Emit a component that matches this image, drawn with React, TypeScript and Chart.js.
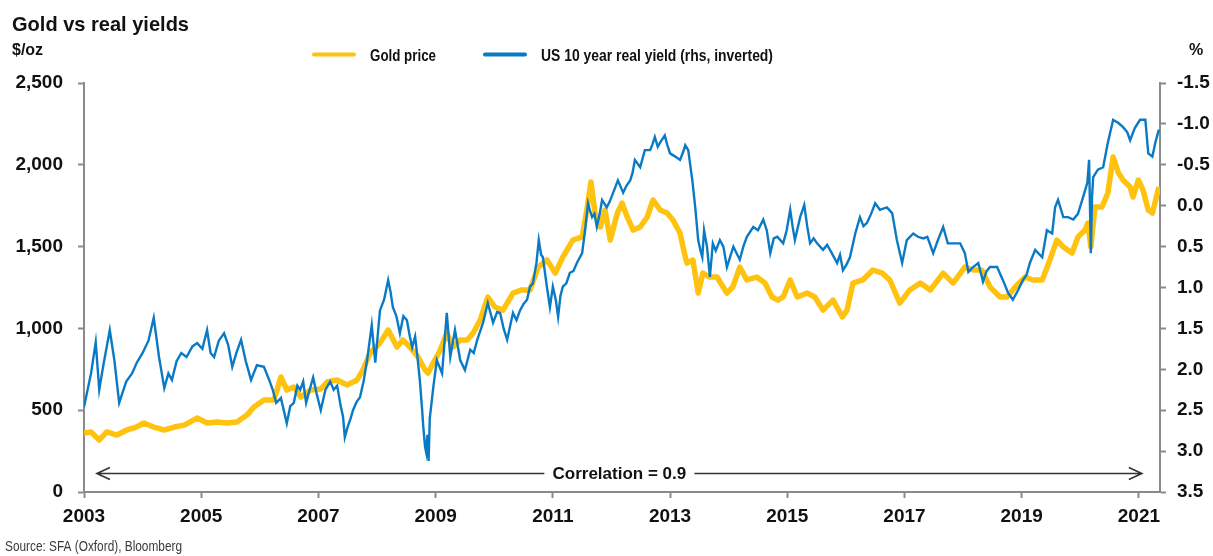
import React, { useEffect, useRef } from "react";
import { Chart, registerables } from "chart.js";

Chart.register(...registerables);

const title = "Gold vs real yields";
const leftUnit = "$/oz";
const rightUnit = "%";
const goldLabel = "Gold price";
const yieldLabel = "US 10 year real yield (rhs, inverted)";
const sourceText = "Source: SFA (Oxford), Bloomberg";
const annotationText = "Correlation = 0.9";
const annotationFrom = 2003.22;
const annotationTo = 2021.05;
const annotationLevel = 116;

const xTickValues = [2003, 2005, 2007, 2009, 2011, 2013, 2015, 2017, 2019, 2021];
const goldTicks = [0, 500, 1000, 1500, 2000, 2500];
const yieldTicks = [-1.5, -1.0, -0.5, 0.0, 0.5, 1.0, 1.5, 2.0, 2.5, 3.0, 3.5];

const goldYears = [
  2003.00, 2003.12, 2003.26, 2003.39, 2003.56, 2003.73, 2003.88, 2004.02, 2004.19, 2004.37,
  2004.54, 2004.71, 2004.93, 2005.10, 2005.27, 2005.44, 2005.61, 2005.78, 2005.90, 2006.07,
  2006.24, 2006.36, 2006.46, 2006.58, 2006.70, 2006.87, 2007.04, 2007.15, 2007.32, 2007.49,
  2007.66, 2007.76, 2007.88, 2008.05, 2008.19, 2008.34, 2008.44, 2008.56, 2008.70, 2008.82,
  2008.87, 2008.96, 2009.08, 2009.19, 2009.30, 2009.42, 2009.54, 2009.64, 2009.76, 2009.89,
  2010.01, 2010.15, 2010.32, 2010.47, 2010.61, 2010.75, 2010.90, 2011.04, 2011.17, 2011.34,
  2011.50, 2011.58, 2011.65, 2011.72, 2011.81, 2011.89, 2011.98, 2012.10, 2012.18, 2012.27,
  2012.37, 2012.49, 2012.61, 2012.71, 2012.83, 2012.95, 2013.05, 2013.17, 2013.26, 2013.29,
  2013.39, 2013.48, 2013.56, 2013.68, 2013.80, 2013.97, 2014.07, 2014.19, 2014.31, 2014.48,
  2014.62, 2014.74, 2014.84, 2014.93, 2015.05, 2015.17, 2015.34, 2015.47, 2015.61, 2015.78,
  2015.94, 2016.02, 2016.12, 2016.29, 2016.46, 2016.62, 2016.75, 2016.92, 2017.09, 2017.27,
  2017.44, 2017.66, 2017.83, 2018.03, 2018.17, 2018.32, 2018.46, 2018.63, 2018.75, 2018.89,
  2019.06, 2019.19, 2019.35, 2019.48, 2019.60, 2019.71, 2019.86, 2019.96, 2020.08, 2020.13,
  2020.18, 2020.25, 2020.37, 2020.47, 2020.56, 2020.65, 2020.73, 2020.85, 2020.90, 2020.99,
  2021.07, 2021.16, 2021.23, 2021.34,
];
const goldPrice = [
  360, 367, 318, 367, 348, 379, 395, 422, 397, 379,
  397, 409, 452, 422, 428, 422, 428, 470, 520, 562,
  562, 703, 623, 642, 580, 623, 630, 672, 685, 654,
  685, 746, 850, 911, 990, 886, 929, 886, 825, 746,
  727, 788, 868, 972, 886, 929, 929, 972, 1051, 1192,
  1131, 1112, 1216, 1235, 1235, 1375, 1418, 1338, 1436, 1540,
  1559, 1724, 1895, 1705, 1620, 1724, 1540, 1705, 1766, 1681,
  1601, 1620, 1681, 1785, 1724, 1705, 1662, 1583, 1436, 1399,
  1418, 1216, 1338, 1314, 1314, 1216, 1253, 1375, 1296, 1314,
  1277, 1192, 1173, 1192, 1296, 1192, 1216, 1192, 1112, 1173,
  1070, 1112, 1277, 1296, 1357, 1338, 1296, 1155, 1235, 1277,
  1235, 1338, 1277, 1375, 1357, 1357, 1253, 1192, 1192, 1253,
  1314, 1296, 1296, 1418, 1540, 1498, 1461, 1559, 1601, 1644,
  1498, 1742, 1742, 1827, 2048, 1950, 1907, 1864, 1803, 1907,
  1846, 1724, 1705, 1864,
];

const yieldYears = [
  2003.00, 2003.12, 2003.20, 2003.26, 2003.33, 2003.44, 2003.52, 2003.60, 2003.72, 2003.82,
  2003.90, 2004.00, 2004.10, 2004.19, 2004.28, 2004.37, 2004.44, 2004.50, 2004.58, 2004.66,
  2004.75, 2004.85, 2004.93, 2005.02, 2005.10, 2005.16, 2005.22, 2005.30, 2005.39, 2005.46,
  2005.53, 2005.60, 2005.68, 2005.76, 2005.85, 2005.95, 2006.07, 2006.16, 2006.22, 2006.28,
  2006.36, 2006.46, 2006.52, 2006.58, 2006.64, 2006.69, 2006.74, 2006.79, 2006.85, 2006.91,
  2006.97, 2007.04, 2007.12, 2007.20, 2007.26, 2007.32, 2007.38, 2007.42, 2007.45, 2007.50,
  2007.55, 2007.59, 2007.65, 2007.71, 2007.77, 2007.83, 2007.91, 2007.97, 2008.05, 2008.12,
  2008.19, 2008.23, 2008.27, 2008.33, 2008.39, 2008.45, 2008.51, 2008.56, 2008.60, 2008.65,
  2008.69, 2008.73, 2008.77, 2008.79, 2008.82, 2008.84, 2008.86, 2008.88, 2008.90, 2008.96,
  2009.02, 2009.11, 2009.19, 2009.25, 2009.33, 2009.42, 2009.50, 2009.59, 2009.65, 2009.71,
  2009.81, 2009.89, 2009.98, 2010.05, 2010.10, 2010.16, 2010.22, 2010.32, 2010.38, 2010.44,
  2010.50, 2010.56, 2010.61, 2010.66, 2010.72, 2010.76, 2010.80, 2010.83, 2010.90, 2010.95,
  2011.00, 2011.05, 2011.09, 2011.13, 2011.17, 2011.23, 2011.29, 2011.35, 2011.41, 2011.50,
  2011.55, 2011.60, 2011.63, 2011.67, 2011.71, 2011.75, 2011.80, 2011.84, 2011.92, 2011.97,
  2012.03, 2012.11, 2012.20, 2012.26, 2012.32, 2012.36, 2012.40, 2012.49, 2012.57, 2012.66,
  2012.70, 2012.74, 2012.79, 2012.83, 2012.91, 2012.95, 2013.00, 2013.09, 2013.17, 2013.22,
  2013.26, 2013.31, 2013.38, 2013.43, 2013.48, 2013.52, 2013.55, 2013.58, 2013.63, 2013.68,
  2013.73, 2013.78, 2013.85, 2013.91, 2013.97, 2014.08, 2014.19, 2014.25, 2014.31, 2014.42,
  2014.50, 2014.59, 2014.65, 2014.71, 2014.77, 2014.83, 2014.93, 2014.99, 2015.05, 2015.09,
  2015.13, 2015.22, 2015.29, 2015.34, 2015.39, 2015.45, 2015.51, 2015.61, 2015.68, 2015.76,
  2015.85, 2015.90, 2015.95, 2016.01, 2016.07, 2016.16, 2016.24, 2016.30, 2016.36, 2016.43,
  2016.50, 2016.58, 2016.70, 2016.79, 2016.87, 2016.96, 2017.04, 2017.15, 2017.23, 2017.32,
  2017.39, 2017.49, 2017.57, 2017.66, 2017.74, 2017.83, 2017.95, 2018.03, 2018.09, 2018.17,
  2018.26, 2018.34, 2018.40, 2018.46, 2018.58, 2018.68, 2018.77, 2018.85, 2018.94, 2019.02,
  2019.08, 2019.14, 2019.23, 2019.35, 2019.43, 2019.52, 2019.57, 2019.62, 2019.71, 2019.79,
  2019.88, 2019.96, 2020.05, 2020.12, 2020.15, 2020.17, 2020.18, 2020.20, 2020.22, 2020.30,
  2020.39, 2020.47, 2020.56, 2020.65, 2020.73, 2020.80, 2020.85, 2020.93, 2021.02, 2021.11,
  2021.16, 2021.23, 2021.28, 2021.34,
];
const yieldPct = [
  2.46, 2.05, 1.67, 2.25, 1.95, 1.52, 1.90, 2.41, 2.15, 2.05,
  1.92, 1.80, 1.65, 1.37, 1.85, 2.23, 2.05, 2.13, 1.90, 1.80,
  1.85, 1.72, 1.68, 1.75, 1.52, 1.80, 1.85, 1.65, 1.56, 1.70,
  1.97, 1.80, 1.64, 1.90, 2.13, 1.95, 1.97, 2.13, 2.25, 2.41,
  2.35, 2.66, 2.45, 2.41, 2.20, 2.25, 2.15, 2.41, 2.25, 2.10,
  2.30, 2.50, 2.25, 2.15, 2.25, 2.20, 2.45, 2.58, 2.83, 2.70,
  2.60, 2.50, 2.40, 2.34, 2.15, 1.89, 1.46, 1.92, 1.28, 1.15,
  0.91, 1.05, 1.24, 1.35, 1.56, 1.35, 1.40, 1.60, 1.73, 1.60,
  1.85, 2.13, 2.50, 2.71, 2.95, 3.02, 2.80, 3.12, 2.60, 2.22,
  1.89, 2.05, 1.31, 1.85, 1.52, 1.89, 2.01, 1.76, 1.80, 1.64,
  1.43, 1.19, 1.43, 1.30, 1.31, 1.50, 1.64, 1.31, 1.40, 1.28,
  1.20, 1.15, 0.99, 0.95, 0.70, 0.42, 0.60, 0.63, 1.00, 1.24,
  0.99, 1.15, 1.36, 1.10, 0.99, 0.95, 0.82, 0.80, 0.70, 0.58,
  0.30, -0.03, 0.05, 0.14, 0.10, 0.26, 0.10, -0.07, 0.02, -0.05,
  -0.16, -0.31, -0.16, -0.25, -0.31, -0.40, -0.56, -0.47, -0.68, -0.68,
  -0.75, -0.84, -0.72, -0.77, -0.86, -0.75, -0.64, -0.60, -0.56, -0.65,
  -0.74, -0.68, -0.31, 0.02, 0.42, 0.55, 0.63, 0.30, 0.50, 0.87,
  0.46, 0.55, 0.42, 0.50, 0.75, 0.50, 0.66, 0.50, 0.38, 0.26,
  0.30, 0.17, 0.30, 0.58, 0.40, 0.38, 0.46, 0.30, 0.05, 0.25,
  0.42, 0.14, -0.01, 0.25, 0.46, 0.40, 0.46, 0.54, 0.48, 0.58,
  0.70, 0.60, 0.79, 0.72, 0.63, 0.34, 0.14, 0.25, 0.21, 0.10,
  -0.03, 0.05, 0.02, 0.09, 0.42, 0.70, 0.42, 0.34, 0.38, 0.40,
  0.38, 0.58, 0.42, 0.26, 0.46, 0.46, 0.46, 0.58, 0.81, 0.75,
  0.70, 0.93, 0.80, 0.75, 0.75, 0.91, 1.07, 1.15, 1.03, 0.91,
  0.85, 0.70, 0.54, 0.63, 0.30, 0.34, 0.02, -0.07, 0.14, 0.14,
  0.17, 0.10, -0.11, -0.28, -0.56, 0.20, 0.58, -0.10, -0.35, -0.44,
  -0.47, -0.77, -1.05, -1.01, -0.96, -0.90, -0.80, -0.95, -1.05, -1.05,
  -0.64, -0.60, -0.77, -0.93,
];

const GOLD = "#FFC20E";
const BLUE = "#0A7AC4";
const AXIS = "#8a8a8a";
const TEXT = "#111111";
const FONT = "'Liberation Sans', Arial, sans-serif";

function pairs(xs: number[], ys: number[]) {
  const n = Math.min(xs.length, ys.length);
  const out: { x: number; y: number }[] = [];
  for (let i = 0; i < n; i++) out.push({ x: xs[i], y: ys[i] });
  return out;
}

const decorPlugin = {
  id: "decor",
  beforeDraw(chart: any) {
    const ctx = chart.ctx;
    ctx.save();
    ctx.fillStyle = "#ffffff";
    ctx.fillRect(0, 0, chart.width, chart.height);
    ctx.restore();
  },
  afterDatasetsDraw(chart: any) {
    const ctx = chart.ctx;
    const xs = chart.scales.x;
    const ys = chart.scales.y;
    const x1 = xs.getPixelForValue(annotationFrom);
    const x2 = xs.getPixelForValue(annotationTo);
    const y = Math.round(ys.getPixelForValue(annotationLevel)) + 0.5;
    ctx.save();
    ctx.strokeStyle = "#333333";
    ctx.lineWidth = 1.6;
    ctx.beginPath();
    ctx.moveTo(x1, y);
    ctx.lineTo(x2, y);
    ctx.moveTo(x1 + 13, y - 6);
    ctx.lineTo(x1, y);
    ctx.lineTo(x1 + 13, y + 6);
    ctx.moveTo(x2 - 13, y - 6);
    ctx.lineTo(x2, y);
    ctx.lineTo(x2 - 13, y + 6);
    ctx.stroke();
    const cx = (x1 + x2) / 2;
    ctx.fillStyle = "#ffffff";
    ctx.fillRect(cx - 75, y - 11, 150, 22);
    ctx.fillStyle = TEXT;
    ctx.font = `bold 17px ${FONT}`;
    ctx.textAlign = "center";
    ctx.textBaseline = "middle";
    ctx.fillText(annotationText, cx, y + 1, 134);
    ctx.restore();
  },
  afterDraw(chart: any) {
    const ctx = chart.ctx;
    ctx.save();
    ctx.fillStyle = TEXT;
    ctx.textBaseline = "alphabetic";
    ctx.textAlign = "left";
    ctx.font = `bold 21px ${FONT}`;
    ctx.fillText(title, 12, 31, 177);
    ctx.font = `bold 16px ${FONT}`;
    ctx.fillText(leftUnit, 12, 55, 34);
    ctx.fillText(rightUnit, 1189, 55, 16);
    // legend
    ctx.lineWidth = 4;
    ctx.lineCap = "round";
    ctx.strokeStyle = GOLD;
    ctx.beginPath();
    ctx.moveTo(314, 54.5);
    ctx.lineTo(354, 54.5);
    ctx.stroke();
    ctx.strokeStyle = BLUE;
    ctx.beginPath();
    ctx.moveTo(485, 54.5);
    ctx.lineTo(525, 54.5);
    ctx.stroke();
    ctx.font = `bold 17px ${FONT}`;
    ctx.fillText(goldLabel, 370, 61, 66);
    ctx.fillText(yieldLabel, 541, 61, 232);
    // source
    ctx.font = `14px ${FONT}`;
    ctx.fillStyle = "#3a3a3a";
    ctx.fillText(sourceText, 5, 551, 177);
    ctx.restore();
  },
};

const tickFont = { family: FONT, size: 19, weight: "bold" as const };

export default function App() {
  const ref = useRef<HTMLCanvasElement | null>(null);
  useEffect(() => {
    if (!ref.current) return;
    const chart = new Chart(ref.current, {
      type: "line",
      data: {
        datasets: [
          {
            label: yieldLabel,
            data: pairs(yieldYears, yieldPct),
            yAxisID: "y2",
            borderColor: BLUE,
            backgroundColor: BLUE,
            borderWidth: 2.4,
            pointRadius: 0,
            tension: 0,
            order: 0,
          },
          {
            label: goldLabel,
            data: pairs(goldYears, goldPrice),
            yAxisID: "y",
            borderColor: GOLD,
            backgroundColor: GOLD,
            borderWidth: 5.5,
            pointRadius: 0,
            tension: 0,
            order: 1,
            borderJoinStyle: "round",
          } as any,
        ],
      },
      options: {
        animation: false,
        responsive: false,
        maintainAspectRatio: false,
        layout: { padding: { top: 83, left: 0, right: 0, bottom: 0 } },
        plugins: { legend: { display: false }, tooltip: { enabled: false } },
        scales: {
          x: {
            type: "linear",
            min: 2003,
            max: 2021.36,
            afterBuildTicks: (s: any) => {
              s.ticks = xTickValues.map((v) => ({ value: v }));
            },
            afterFit: (s: any) => {
              s.height = 64;
            },
            ticks: {
              callback: (v: any) => String(v),
              font: tickFont,
              color: TEXT,
              padding: 7,
              maxRotation: 0,
              autoSkip: false,
            },
            grid: {
              display: true,
              drawOnChartArea: false,
              drawTicks: true,
              tickLength: 6,
              tickColor: AXIS,
              tickWidth: 2,
            },
            border: { display: true, color: AXIS, width: 2 },
          },
          y: {
            type: "linear",
            position: "left",
            min: 0,
            max: 2500,
            afterBuildTicks: (s: any) => {
              s.ticks = goldTicks.map((v) => ({ value: v }));
            },
            afterFit: (s: any) => {
              s.width = 84;
            },
            ticks: {
              callback: (v: any) => Number(v).toLocaleString("en-US"),
              font: tickFont,
              color: TEXT,
              padding: 15,
            },
            grid: {
              display: true,
              drawOnChartArea: false,
              drawTicks: true,
              tickLength: 6,
              tickColor: AXIS,
              tickWidth: 2,
            },
            border: { display: true, color: AXIS, width: 2 },
          },
          y2: {
            type: "linear",
            position: "right",
            min: -1.5,
            max: 3.5,
            reverse: true,
            afterBuildTicks: (s: any) => {
              s.ticks = yieldTicks.map((v) => ({ value: v }));
            },
            afterFit: (s: any) => {
              s.width = 53;
            },
            ticks: {
              callback: (v: any) => Number(v).toFixed(1),
              font: tickFont,
              color: TEXT,
              padding: 11,
            },
            grid: {
              display: true,
              drawOnChartArea: false,
              drawTicks: true,
              tickLength: 6,
              tickColor: AXIS,
              tickWidth: 2,
            },
            border: { display: true, color: AXIS, width: 2 },
          },
        },
      } as any,
      plugins: [decorPlugin],
    });
    return () => chart.destroy();
  }, []);
  return (
    <div style={{ position: "absolute", left: 0, top: 0, width: 1213, height: 556, background: "#fff" }}>
      <canvas ref={ref} width={1213} height={556} style={{ display: "block", width: 1213, height: 556 }} />
    </div>
  );
}
